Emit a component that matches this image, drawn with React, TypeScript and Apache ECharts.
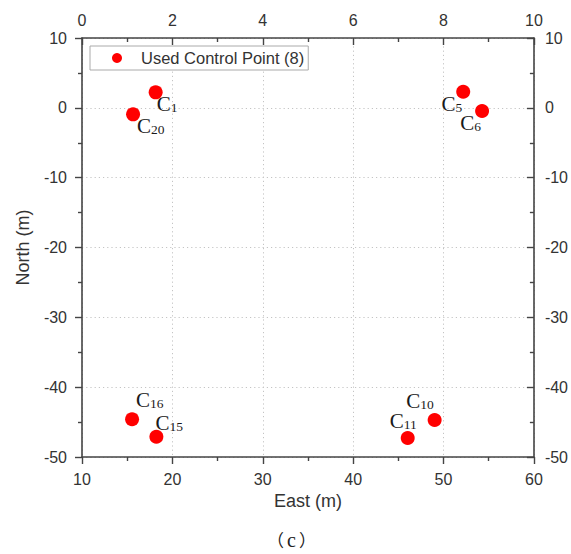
import React, { useEffect, useRef } from "react";
import * as echarts from "echarts";

const pointNames = ["1", "20", "5", "6", "16", "15", "10", "11"];
const eastValues = [18.15, 15.65, 52.18, 54.27, 15.54, 18.23, 49.02, 46.04];
const northValues = [2.22, -0.93, 2.31, -0.45, -44.6, -47.1, -44.7, -47.28];
const seriesName = "Used Control Point (8)";
const captionLetter = "c";

// label placement (styling only): offset of label anchor from point centre
const labelPlacement: { dx: number; dy: number; align: "left" | "right" }[] = [
  { dx: 1, dy: 12, align: "left" },
  { dx: 4, dy: 12, align: "left" },
  { dx: -1, dy: 12, align: "right" },
  { dx: -1, dy: 12, align: "right" },
  { dx: 4, dy: -19, align: "left" },
  { dx: -1, dy: -13.5, align: "left" },
  { dx: -1, dy: -18.5, align: "right" },
  { dx: 9, dy: -17, align: "right" },
];

const SYMBOL = 14;
const AXIS_COLOR = "#444";
const LABEL_COLOR = "#333";
const SANS = "'Liberation Sans', Arial, sans-serif";
const SERIF = "'Liberation Serif', 'Times New Roman', serif";
const CJK = "'Noto Sans CJK SC', sans-serif";

export default function App() {
  const ref = useRef<HTMLDivElement>(null);
  useEffect(() => {
    if (!ref.current) return;
    const chart = echarts.init(ref.current, undefined, { renderer: "svg" });
    const data = pointNames.map((n, i) => {
      const p = labelPlacement[i];
      return {
        value: [eastValues[i], northValues[i]],
        label: {
          show: true,
          position: [SYMBOL / 2 + p.dx, SYMBOL / 2 + p.dy],
          align: p.align,
          verticalAlign: "middle",
          formatter: `{c|C}{s|${n}}`,
        },
      };
    });
    const axisCommon = {
      axisLine: { show: true, onZero: false, lineStyle: { color: AXIS_COLOR, width: 1.6 } },
      axisLabel: { color: LABEL_COLOR, fontSize: 16, fontFamily: SANS },
      minorTick: { show: true, splitNumber: 2, length: 4, lineStyle: { color: AXIS_COLOR, width: 1.4 } },
      axisTick: { show: true, length: 7, lineStyle: { color: AXIS_COLOR, width: 1.4 } },
    };
    const gridLine = { show: true, lineStyle: { color: "#c4c4c4", type: [1.2, 3], width: 1 } };
    chart.setOption({
      animation: false,
      backgroundColor: "#fff",
      grid: { left: 82, right: 35, top: 38, bottom: 97 },
      legend: {
        show: true,
        left: 90,
        top: 46,
        orient: "horizontal",
        data: [{ name: seriesName, icon: "circle" }],
        itemWidth: 10,
        itemHeight: 10,
        padding: [3, 4, 3, 22],
        borderColor: "#aaa",
        borderWidth: 1,
        backgroundColor: "#fff",
        textStyle: {
          color: "#333",
          fontSize: 16.5,
          fontFamily: SANS,
          lineHeight: 18,
          padding: [0, 0, 0, 14],
        },
      },
      xAxis: [
        {
          type: "value",
          min: 10,
          max: 60,
          interval: 10,
          position: "bottom",
          name: "East (m)",
          nameLocation: "middle",
          nameGap: 35,
          nameTextStyle: { color: LABEL_COLOR, fontSize: 18, fontFamily: SANS },
          ...axisCommon,
          axisTick: { ...axisCommon.axisTick, inside: false },
          minorTick: { ...axisCommon.minorTick },
          axisLabel: { ...axisCommon.axisLabel, margin: 14 },
          splitLine: gridLine,
        },
        {
          type: "value",
          min: 0,
          max: 10,
          interval: 2,
          position: "top",
          ...axisCommon,
          axisTick: { ...axisCommon.axisTick, inside: true },
          minorTick: { ...axisCommon.minorTick },
          axisLabel: { ...axisCommon.axisLabel, margin: 10 },
          splitLine: { show: false },
        },
      ],
      yAxis: [
        {
          type: "value",
          min: -50,
          max: 10,
          interval: 10,
          position: "left",
          name: "North (m)",
          nameLocation: "middle",
          nameGap: 50,
          nameTextStyle: { color: LABEL_COLOR, fontSize: 18, fontFamily: SANS },
          ...axisCommon,
          axisTick: { ...axisCommon.axisTick, inside: false },
          minorTick: { ...axisCommon.minorTick },
          axisLabel: { ...axisCommon.axisLabel, margin: 15 },
          splitLine: gridLine,
        },
        {
          type: "value",
          min: -50,
          max: 10,
          interval: 10,
          position: "right",
          ...axisCommon,
          axisTick: { ...axisCommon.axisTick, inside: true },
          minorTick: { ...axisCommon.minorTick },
          axisLabel: { ...axisCommon.axisLabel, margin: 11 },
          splitLine: { show: false },
        },
      ],
      series: [
        {
          name: seriesName,
          type: "scatter",
          xAxisIndex: 0,
          yAxisIndex: 0,
          symbol: "circle",
          symbolSize: SYMBOL,
          itemStyle: { color: "#ff0000", opacity: 1 },
          label: {
            show: true,
            rich: {
              c: {
                fontFamily: SERIF,
                fontSize: 21,
                lineHeight: 21,
                color: "#1a1a1a",
                verticalAlign: "top",
              },
              s: {
                fontFamily: SERIF,
                fontSize: 13.5,
                lineHeight: 13.5,
                color: "#1a1a1a",
                verticalAlign: "bottom",
                padding: [9, 0, 0, 0],
              },
            },
          },
          data,
        },
      ],
      graphic: [
        {
          type: "text",
          left: 267,
          top: 529.5,
          style: {
            text: `{p|（}{c|${captionLetter}}{p|）}`,
            rich: {
              p: { fontFamily: CJK, fontSize: 17, fill: "#222", lineHeight: 25 },
              c: { fontFamily: SERIF, fontSize: 20, fill: "#222", lineHeight: 25, padding: [0, 3] },
            },
          },
        },
      ],
    });
    return () => chart.dispose();
  }, []);
  return (
    <div
      ref={ref}
      style={{ position: "fixed", left: 0, top: 0, width: 571, height: 554, background: "#fff" }}
    />
  );
}
